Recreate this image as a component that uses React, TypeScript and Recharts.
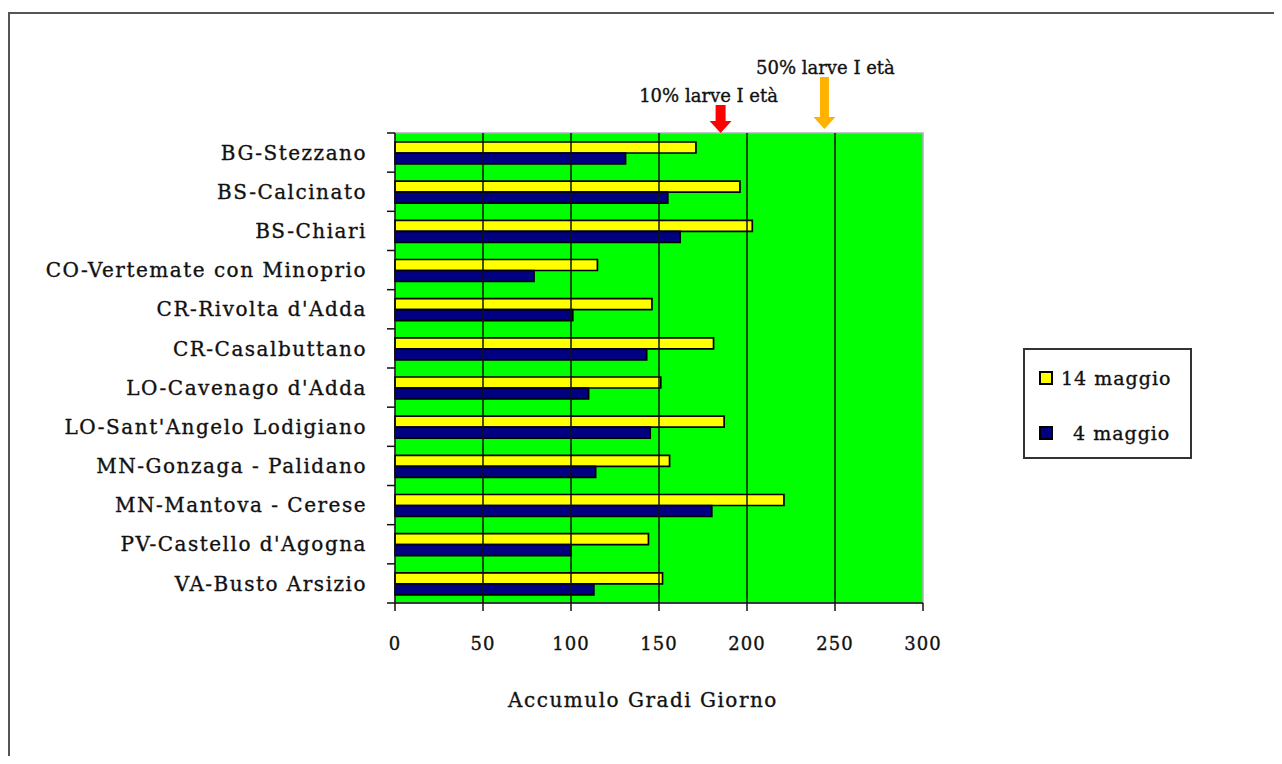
import {
  BarChart,
  Bar,
  XAxis,
  YAxis,
  Legend,
  ReferenceArea,
  ReferenceLine,
} from 'recharts'

const categories = [
  'BG-Stezzano',
  'BS-Calcinato',
  'BS-Chiari',
  'CO-Vertemate con Minoprio',
  "CR-Rivolta d'Adda",
  'CR-Casalbuttano',
  "LO-Cavenago d'Adda",
  "LO-Sant'Angelo Lodigiano",
  'MN-Gonzaga - Palidano',
  'MN-Mantova - Cerese',
  "PV-Castello d'Agogna",
  'VA-Busto Arsizio',
]

const may14 = [171, 196, 203, 115, 146, 181, 151, 187, 156, 221, 144, 152]
const may4 = [131, 155, 162, 79, 101, 143, 110, 145, 114, 180, 100, 113]

const xTicks = [0, 50, 100, 150, 200, 250, 300]
const gridValues = [50, 100, 150, 200, 250]

const markerValues = [185, 244]
const markerLabels = ['10% larve I età', '50% larve I età']

const seriesNames = ['14 maggio', '4 maggio']

const chartData = categories.map((name, i) => ({
  name,
  may14: may14[i],
  may4: may4[i],
}))

// layout
const CHART_W = 1274
const CHART_H = 748
const PLOT_LEFT = 387
const PLOT_TOP = 125
const PLOT_H = 470
const FONT = "'DejaVu Serif', serif"
const INK = '#111'
const TEXT_STROKE = 0.35

const markerStyles = [
  { color: '#ff0000', tipGap: 0, headTop: 12, shaftTop: 28, shaftHalf: 5, labelDx: -12, labelDy: -37 },
  { color: '#ffb300', tipGap: 4, headTop: 16, shaftTop: 56, shaftHalf: 4.5, labelDx: 1, labelDy: -65 },
]

function CategoryTick(props: any) {
  const { y, payload, index } = props
  const half = PLOT_H / categories.length / 2
  return (
    <g>
      <line x1={PLOT_LEFT - 8} x2={PLOT_LEFT} y1={y - half} y2={y - half} stroke={INK} strokeWidth={1.5} />
      {index === categories.length - 1 && (
        <line x1={PLOT_LEFT - 8} x2={PLOT_LEFT} y1={y + half} y2={y + half} stroke={INK} strokeWidth={1.5} />
      )}
      <text
        x={PLOT_LEFT - 28}
        y={y}
        dy="0.355em"
        textAnchor="end"
        fontSize={20}
        letterSpacing={1.5}
        fontFamily={FONT}
        fill={INK}
        stroke={INK}
        strokeWidth={TEXT_STROKE}
      >
        {payload.value}
      </text>
    </g>
  )
}

const makeArrow = (i: number) => (p: any) => {
  const s = markerStyles[i]
  const x = p.x1
  const top = Math.min(p.y1, p.y2)
  const tip = top - s.tipGap
  const headTop = top - s.headTop
  const shaftTop = top - s.shaftTop
  const hw = 11
  const pts = [
    [x - s.shaftHalf, shaftTop],
    [x + s.shaftHalf, shaftTop],
    [x + s.shaftHalf, headTop],
    [x + hw, headTop],
    [x, tip],
    [x - hw, headTop],
    [x - s.shaftHalf, headTop],
  ]
    .map((pt) => pt.join(','))
    .join(' ')
  return (
    <g>
      <polygon points={pts} fill={s.color} />
      <text
        x={x + s.labelDx}
        y={top + s.labelDy}
        dy="0.355em"
        textAnchor="middle"
        fontSize={18}
        fontFamily={FONT}
        fill={INK}
        stroke={INK}
        strokeWidth={TEXT_STROKE}
      >
        {markerLabels[i]}
      </text>
    </g>
  )
}

function LegendBox(props: any) {
  const items = props.payload || []
  return (
    <div
      style={{
        position: 'relative',
        width: 169,
        height: 111,
        boxSizing: 'border-box',
        border: '2px solid #333',
        background: '#fff',
        fontFamily: FONT,
        fontSize: 19,
        letterSpacing: 1,
        color: INK,
        WebkitTextStroke: '0.35px #111',
      }}
    >
      {items.map((item: any, i: number) => (
        <div key={item.value} style={{ position: 'absolute', left: 0, top: i === 0 ? 16 : 71, height: 24, width: '100%' }}>
          <span
            style={{
              position: 'absolute',
              left: 14,
              top: 5,
              width: 14,
              height: 14,
              boxSizing: 'border-box',
              border: '2px solid #000',
              background: item.color,
            }}
          />
          <span style={{ position: 'absolute', left: i === 0 ? 36 : 48, top: 0, lineHeight: '24px', whiteSpace: 'nowrap' }}>
            {item.value}
          </span>
        </div>
      ))}
    </div>
  )
}

export default function App() {
  return (
    <div style={{ position: 'relative', width: CHART_W, height: CHART_H, background: '#fff' }}>
      <div
        style={{
          position: 'absolute',
          left: 0,
          top: 4,
          width: CHART_W,
          height: CHART_H - 4,
          boxSizing: 'border-box',
          borderTop: '2px solid #555',
          borderLeft: '2px solid #555',
        }}
      />
      <div style={{ position: 'absolute', left: 0, top: 0 }}>
        <BarChart
          width={CHART_W}
          height={CHART_H}
          data={chartData}
          layout="vertical"
          margin={{ top: PLOT_TOP, right: 359, bottom: 38, left: 0 }}
          barSize={11}
          barGap={0}
        >
          <ReferenceArea x1={0} x2={300} fill="#00ff00" fillOpacity={1} stroke="#b9a9c9" strokeWidth={1.5} />
          {gridValues.map((v) => (
            <ReferenceLine key={v} x={v} stroke={INK} strokeWidth={1.5} />
          ))}
          {markerValues.map((v, i) => (
            <ReferenceLine key={'m' + v} x={v} stroke="none" shape={makeArrow(i)} />
          ))}
          <XAxis
            type="number"
            domain={[0, 300]}
            ticks={xTicks}
            interval={0}
            height={115}
            tickSize={8}
            tickMargin={26}
            axisLine={{ stroke: INK, strokeWidth: 1.5 }}
            tickLine={{ stroke: INK, strokeWidth: 1.5 }}
            tick={{ fontSize: 18, fill: INK, fontFamily: FONT, letterSpacing: 1, stroke: INK, strokeWidth: TEXT_STROKE }}
            label={{
              value: 'Accumulo Gradi Giorno',
              position: 'insideBottom',
              offset: 11,
              dx: -16,
              fontSize: 20,
              letterSpacing: 1.5,
              fontFamily: FONT,
              fill: INK,
              stroke: INK,
              strokeWidth: TEXT_STROKE,
            }}
          />
          <YAxis
            type="category"
            dataKey="name"
            width={PLOT_LEFT}
            interval={0}
            tickLine={false}
            axisLine={{ stroke: INK, strokeWidth: 1.5 }}
            tick={<CategoryTick />}
          />
          <Legend
            layout="horizontal"
            align="center"
            verticalAlign="middle"
            content={<LegendBox />}
            wrapperStyle={{ left: 1015, top: 340, width: 169, height: 111 }}
          />
          <Bar dataKey="may14" name={seriesNames[0]} fill="#ffff00" stroke="#000" strokeWidth={1.7} isAnimationActive={false} />
          <Bar dataKey="may4" name={seriesNames[1]} fill="#000080" stroke="#000" strokeWidth={1.7} isAnimationActive={false} />
        </BarChart>
      </div>
    </div>
  )
}
